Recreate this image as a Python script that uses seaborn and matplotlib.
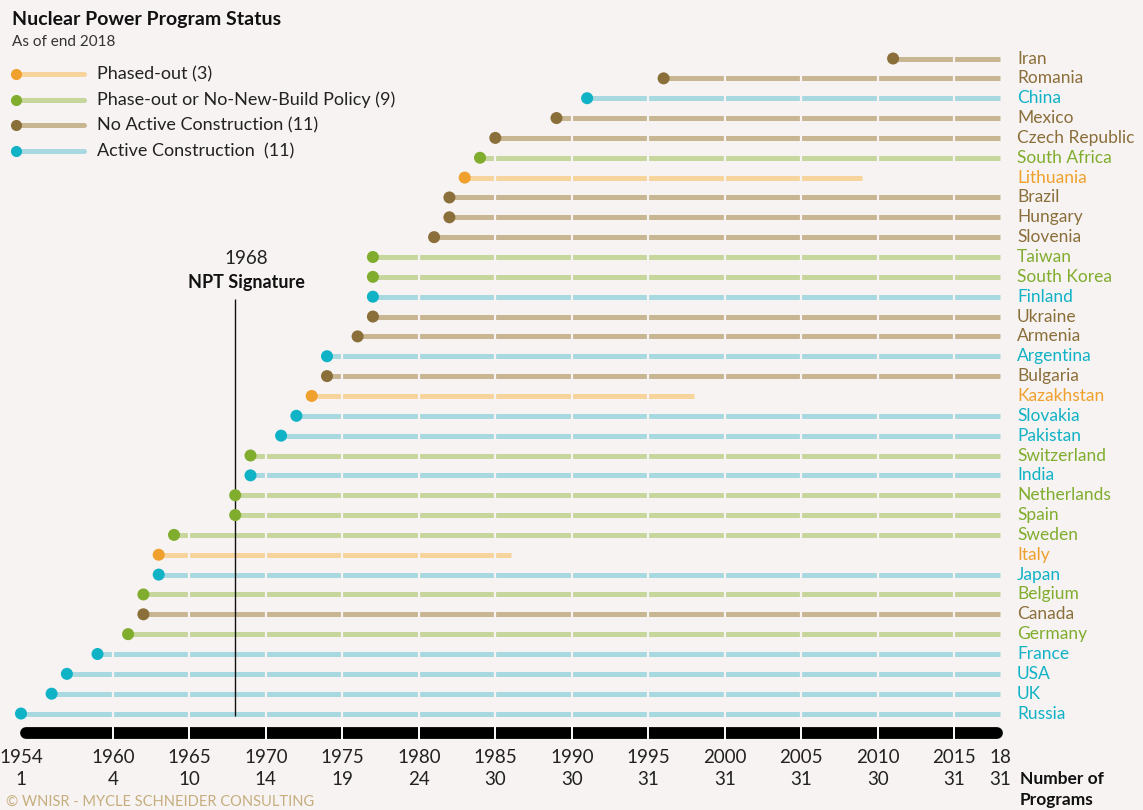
import matplotlib
matplotlib.use("Agg")
import matplotlib.pyplot as plt
import seaborn as sns
import pandas as pd

# --- data ---
countries = ["Iran", "Romania", "China", "Mexico", "Czech Republic", "South Africa",
             "Lithuania", "Brazil", "Hungary", "Slovenia", "Taiwan", "South Korea",
             "Finland", "Ukraine", "Armenia", "Argentina", "Bulgaria", "Kazakhstan",
             "Slovakia", "Pakistan", "Switzerland", "India", "Netherlands", "Spain",
             "Sweden", "Italy", "Japan", "Belgium", "Canada", "Germany", "France",
             "USA", "UK", "Russia"]
start_year = [2011, 1996, 1991, 1989, 1985, 1984, 1983, 1982, 1982, 1981, 1977, 1977,
              1977, 1977, 1976, 1974, 1974, 1973, 1972, 1971, 1969, 1969, 1968, 1968,
              1964, 1963, 1963, 1962, 1962, 1961, 1959, 1957, 1956, 1954]
end_year = [2018, 2018, 2018, 2018, 2018, 2018, 2009, 2018, 2018, 2018, 2018, 2018,
            2018, 2018, 2018, 2018, 2018, 1998, 2018, 2018, 2018, 2018, 2018, 2018,
            2018, 1986, 2018, 2018, 2018, 2018, 2018, 2018, 2018, 2018]
status = ["none", "none", "active", "none", "none", "policy", "out", "none", "none",
          "none", "policy", "policy", "active", "none", "none", "active", "none", "out",
          "active", "active", "policy", "active", "policy", "policy", "policy", "out",
          "active", "policy", "none", "policy", "active", "active", "active", "active"]

status_order = ["out", "policy", "none", "active"]
status_labels = ["Phased-out (3)", "Phase-out or No-New-Build Policy (9)",
                 "No Active Construction (11)", "Active Construction  (11)"]
tick_years = [1954, 1960, 1965, 1970, 1975, 1980, 1985, 1990, 1995, 2000, 2005, 2010, 2015, 2018]
tick_labels = ["1954", "1960", "1965", "1970", "1975", "1980", "1985", "1990", "1995",
               "2000", "2005", "2010", "2015", "18"]
program_counts = [1, 4, 10, 14, 19, 24, 30, 30, 31, 31, 31, 30, 31, 31]
npt_year = 1968

# --- styling ---
BG = "#f7f3f2"
dot_colors = {"out": "#f0a02c", "policy": "#80ad2e", "none": "#8b6f3a", "active": "#10b2c6"}
line_colors = {"out": "#f6d49c", "policy": "#c6d69c", "none": "#c8b692", "active": "#a8d9e0"}
text_colors = {"out": "#f0a02c", "policy": "#80ad2e", "none": "#8b6f3a", "active": "#10b2c6"}
DARK = "#222222"

sns.set_style("white")
plt.rcParams["font.family"] = ["Lato", "DejaVu Sans"]

df = pd.DataFrame({"country": countries, "start": start_year, "end": end_year,
                   "status": status})
df["row"] = range(len(df))

W, H = 1143, 810
fig = plt.figure(figsize=(W / 100, H / 100), dpi=100, facecolor=BG)
ax = fig.add_axes([0, 0, 1, 1])
ax.set_facecolor(BG)

# pixel mapping: 1954 -> x=21, 15.3 px / year ; row 0 -> y=58.5, 19.85 px / row
px_year = 15.3
x0 = 1954 - 21 / px_year
ax.set_xlim(x0, x0 + W / px_year)
row_px = 19.85
y0 = -58.5 / row_px
ax.set_ylim(y0 + H / row_px, y0)
ax.axis("off")

# lollipop stems
for st in status_order:
    sub = df[df["status"] == st]
    ax.hlines(sub["row"], sub["start"], sub["end"], color=line_colors[st], lw=3.6, zorder=2)

# small gaps at every tick year
n = len(df)
for yr in tick_years[1:-1]:
    ax.vlines(yr, -0.5, n - 0.5, color=BG, lw=1.6, zorder=3)

# NPT signature line
ax.vlines(npt_year, 12.1, n - 1 + 0.1, color="#111111", lw=1.0, zorder=4)
ax.text(npt_year + 0.75, 10.1, "1968", ha="center", va="center", fontsize=13.5,
        color=DARK)
ax.text(npt_year + 0.75, 11.3, "NPT Signature", ha="center", va="center", fontsize=13,
        fontweight="bold", color="#111111")

# dots
sns.scatterplot(data=df, x="start", y="row", hue="status", hue_order=status_order,
                palette=dot_colors, s=75, edgecolor="none", legend=False, zorder=5, ax=ax)

# country labels
for _, r in df.iterrows():
    ax.text(2019.1, r["row"], r["country"], ha="left", va="center", fontsize=12.5,
            color=text_colors[r["status"]])

# timeline bar
bar_row = n
ax.plot([tick_years[0] + 0.3, tick_years[-1] - 0.2], [bar_row, bar_row], color="black",
        lw=8.5, solid_capstyle="round", zorder=2)
for yr in tick_years[1:-1]:
    ax.vlines(yr, bar_row - 0.35, bar_row + 0.35, color="white", lw=1.4, zorder=3)

for yr, lab, cnt in zip(tick_years, tick_labels, program_counts):
    ax.text(yr, bar_row + 1.2, lab, ha="center", va="center", fontsize=13.5, color=DARK)
    ax.text(yr, bar_row + 2.3, str(cnt), ha="center", va="center", fontsize=13.5, color=DARK)
ax.text(2019.3, bar_row + 2.3, "Number of", ha="left", va="center", fontsize=12.5,
        fontweight="bold", color="#111111")
ax.text(2019.3, bar_row + 3.35, "Programs", ha="left", va="center", fontsize=12.5,
        fontweight="bold", color="#111111")

# title + legend (in pixel coordinates)
pax = fig.add_axes([0, 0, 1, 1])
pax.set_xlim(0, W)
pax.set_ylim(H, 0)
pax.axis("off")
pax.patch.set_alpha(0)

pax.text(12, 20, "Nuclear Power Program Status", ha="left", va="center", fontsize=14,
         fontweight="bold", color="#111111")
pax.text(12, 42, "As of end 2018", ha="left", va="center", fontsize=11, color="#333333")
for i, (st, lab) in enumerate(zip(status_order, status_labels)):
    yy = 74 + i * 25.7
    pax.plot([16, 84], [yy, yy], color=line_colors[st], lw=3.6, zorder=2)
    pax.plot([16], [yy], "o", color=dot_colors[st], ms=8, mec="none", zorder=3)
    pax.text(97, yy, lab, ha="left", va="center", fontsize=13, color=DARK)

pax.text(6, 802, "© WNISR - MYCLE SCHNEIDER CONSULTING", ha="left", va="center",
         fontsize=10.5, color="#c5ae7e")

fig.savefig("out.png", dpi=100, facecolor=BG)
